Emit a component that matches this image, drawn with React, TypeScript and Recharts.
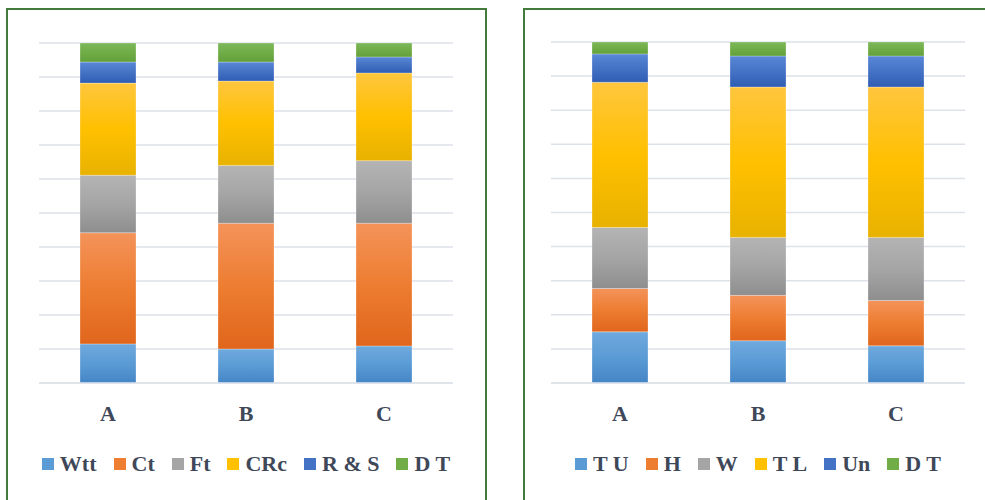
import React from 'react';
import { BarChart, Bar, XAxis, YAxis, CartesianGrid, Legend } from 'recharts';

const CATEGORIES = ['A', 'B', 'C'];

// left panel (percent of each bar)
const WTT = [11.5, 10.0, 10.9];
const CT = [32.7, 37.0, 36.1];
const FT = [16.9, 17.0, 18.4];
const CRC = [27.1, 24.8, 25.8];
const RS = [6.2, 5.6, 4.7];
const DT_LEFT = [5.6, 5.6, 4.1];

// right panel
const TU = [15.0, 12.4, 10.9];
const H = [12.7, 13.3, 13.3];
const W = [17.9, 17.0, 18.5];
const TL = [42.6, 44.1, 44.1];
const UN = [8.3, 9.1, 9.1];
const DT_RIGHT = [3.5, 4.1, 4.1];

const GRID_TICKS = [0, 10, 20, 30, 40, 50, 60, 70, 80, 90, 100];

const TEXT = '#3F4859';
const FONT = '"Liberation Serif", "Times New Roman", serif';

// solid colour, gradient top, gradient bottom
const PALETTE = [
  ['#5B9BD5', '#6FA9DE', '#4485C6'],
  ['#ED7D31', '#F4935A', '#E0661C'],
  ['#A5A5A5', '#B4B4B4', '#8E8E8E'],
  ['#FFC000', '#FFC63E', '#E8B200'],
  ['#4472C4', '#5A87D6', '#2F5DB4'],
  ['#70AD47', '#7DB85A', '#62A03B'],
];

const LEFT_NAMES = ['Wtt', 'Ct', 'Ft', 'CRc', 'R & S', 'D T'];
const RIGHT_NAMES = ['T U', 'H', 'W', 'T L', 'Un', 'D T'];

function buildRows(cols: number[][]) {
  return CATEGORIES.map((name, i) => {
    const row: Record<string, string | number> = { name };
    cols.forEach((c, k) => {
      row[`s${k}`] = c[i];
    });
    return row;
  });
}

const leftRows = buildRows([WTT, CT, FT, CRC, RS, DT_LEFT]);
const rightRows = buildRows([TU, H, W, TL, UN, DT_RIGHT]);

function LegendRow({ names }: { names: string[] }) {
  return (
    <div
      style={{
        height: 30,
        display: 'flex',
        justifyContent: 'center',
        alignItems: 'center',
        fontFamily: FONT,
        fontWeight: 'bold',
        fontSize: 22,
        color: TEXT,
      }}
    >
      {names.map((n, i) => (
        <div key={n + i} style={{ display: 'flex', alignItems: 'center', marginRight: i < names.length - 1 ? 17 : 0 }}>
          <span style={{ width: 12, height: 12, background: PALETTE[i][0], marginRight: 6, display: 'inline-block' }} />
          <span style={{ whiteSpace: 'pre' }}>{n}</span>
        </div>
      ))}
    </div>
  );
}

interface PanelProps {
  id: string;
  left: number;
  rows: Record<string, string | number>[];
  names: string[];
  margin: { top: number; right: number; left: number; bottom: number };
}

function Panel({ id, left, rows, names, margin }: PanelProps) {
  return (
    <div
      style={{
        position: 'absolute',
        left,
        top: 8,
        width: 481,
        height: 500,
        border: '2px solid #427B3C',
        boxSizing: 'border-box',
        background: '#fff',
      }}
    >
      <BarChart width={477} height={491} data={rows} margin={margin} barSize={56}>
        <defs>
          {PALETTE.map((p, i) => (
            <linearGradient key={i} id={`${id}g${i}`} x1="0" y1="0" x2="0" y2="1">
              <stop offset="0%" stopColor={p[1]} />
              <stop offset="50%" stopColor={p[0]} />
              <stop offset="100%" stopColor={p[2]} />
            </linearGradient>
          ))}
        </defs>
        <CartesianGrid vertical={false} stroke="#DDE2EA" strokeWidth={1.5} />
        <XAxis
          dataKey="name"
          axisLine={{ stroke: '#DDE2EA', strokeWidth: 1.5 }}
          tickLine={false}
          tickSize={0}
          tickMargin={22}
          height={66}
          tick={{ fill: TEXT, fontFamily: FONT, fontWeight: 'bold', fontSize: 22 }}
        />
        <YAxis hide domain={[0, 100]} ticks={GRID_TICKS} />
        <Legend verticalAlign="bottom" content={() => <LegendRow names={names} />} />
        {names.map((n, i) => (
          <Bar
            key={n + i}
            dataKey={`s${i}`}
            name={n}
            stackId="a"
            fill={`url(#${id}g${i})`}
            stroke="rgba(255,255,255,0.35)"
            strokeWidth={0.8}
            isAnimationActive={false}
          />
        ))}
      </BarChart>
    </div>
  );
}

export default function App() {
  return (
    <div style={{ position: 'absolute', left: 0, top: 0, width: 985, height: 500, overflow: 'hidden', background: '#fff' }}>
      <Panel id="l" left={6} rows={leftRows} names={LEFT_NAMES} margin={{ top: 33, right: 32, left: 31, bottom: 22 }} />
      <Panel id="r" left={523} rows={rightRows} names={RIGHT_NAMES} margin={{ top: 32, right: 37, left: 26, bottom: 22 }} />
    </div>
  );
}
